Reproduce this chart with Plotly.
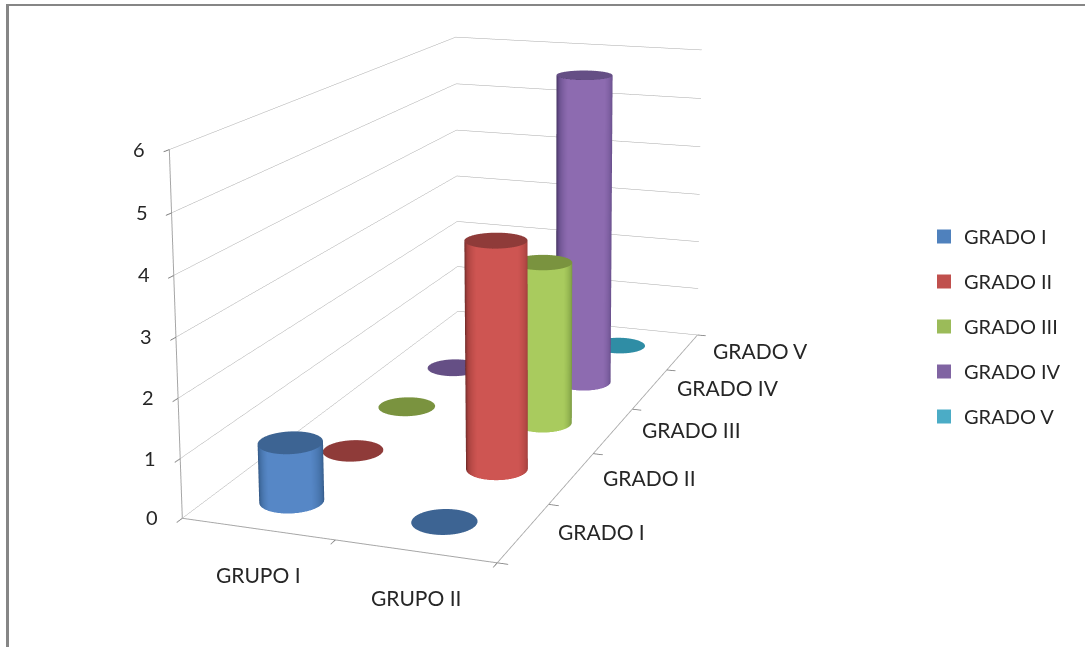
import numpy as np
import plotly.graph_objects as go

# Chart data
groups = ["GRUPO I", "GRUPO II"]
grades = ["GRADO I", "GRADO II", "GRADO III", "GRADO IV", "GRADO V"]
grado_i = [1, 0]
grado_ii = [0, 4]
grado_iii = [0, 3]
grado_iv = [0, 6]
grado_v = [0, 0]
series_values = [grado_i, grado_ii, grado_iii, grado_iv, grado_v]
z_ticks = [0, 1, 2, 3, 4, 5, 6]

# Series colours: lit centre, shaded side, darkest edge, top cap, legend swatch
body_light = ["#5687C6", "#CE5552", "#A9CB5E", "#8D6BB0", "#4FB3CE"]
body_mid = ["#3F6A9E", "#A8423F", "#7F9F44", "#6C5290", "#2F8DA5"]
body_dark = ["#223C5E", "#4F1C1A", "#5F7A2B", "#33244E", "#21687C"]
cap_colour = ["#3D6493", "#8F3B39", "#7A933F", "#654F85", "#2F8DA5"]
legend_colour = ["#4F81BD", "#C0504D", "#9BBB59", "#8064A2", "#4BACC6"]

# Canvas: the scene has a fixed 45 degree field of view, so a taller canvas gives
# the flatter perspective of a spreadsheet 3-D chart. The page is moved up by
# SHIFT pixels so that the visible window shows the chart area.
W, H, SHIFT = 1085, 1633, 716

EYE = (0.9006, -2.3618, 0.6774)
CENTER = (0.4766, -1.1155, 0.4335)
ASPECT = (0.3905, 0.8868, 0.4388)
RADIUS = 0.0384  # cylinder radius in scene units

X_RANGE, Y_RANGE, Z_RANGE = 2, 5, 6
view_az = np.arctan2(EYE[1] - CENTER[1], EYE[0] - CENTER[0])


def cylinder(i, cx, cy, h):
    """Side and top cap of one series' cylinder; a zero value leaves only the cap."""
    t = np.linspace(0, 2 * np.pi, 145)
    kx, ky = RADIUS * X_RANGE / ASPECT[0], RADIUS * Y_RANGE / ASPECT[1]
    X = np.stack([cx + kx * np.cos(t)] * 2)
    Y = np.stack([cy + ky * np.sin(t)] * 2)
    Z = np.stack([0 * t, 0 * t + h])
    delta = t - view_az
    shade = np.clip(np.cos(delta), 0, 1)
    shade = np.where(np.sin(delta) > 0, 0.3 + 0.7 * shade, shade)
    shade = np.stack([shade, shade])
    scale = [[0, body_dark[i]], [0.45, body_mid[i]], [0.8, body_light[i]], [1, body_light[i]]]
    style = dict(showscale=False, hoverinfo="skip", cmin=0, cmax=1,
                 lighting=dict(ambient=1, diffuse=0, specular=0, roughness=1, fresnel=0))
    parts = []
    if h > 0:
        parts.append(go.Surface(x=X, y=Y, z=Z, surfacecolor=shade, colorscale=scale, **style))
    rings = np.array([0, 1.0])
    XC = cx + np.outer(rings, kx * np.cos(t))
    YC = cy + np.outer(rings, ky * np.sin(t))
    ZC = np.full_like(XC, h)
    parts.append(go.Surface(x=XC, y=YC, z=ZC, surfacecolor=np.zeros_like(XC),
                            colorscale=[[0, cap_colour[i]], [1, cap_colour[i]]], **style))
    return parts


fig = go.Figure()
for i, vals in enumerate(series_values):
    for j, v in enumerate(vals):
        for part in cylinder(i, j + 0.5, i + 0.5, v):
            fig.add_trace(part)

# Legend entries
for i, name in enumerate(grades):
    fig.add_trace(go.Scatter3d(x=[None], y=[None], z=[None], mode="markers", name=name,
                               legendgroup=name,
                               marker=dict(symbol="square", size=14, color=legend_colour[i])))

font = dict(family="Lato", size=20, color="#262626")
label_font = dict(family="Lato", size=21, color="#262626")

# Axis labels are anchored to their data positions on the floor edges
labels = []
for z in z_ticks:
    labels.append(dict(x=0, y=0, z=z, text=str(z), showarrow=False, xshift=-30, yshift=1, font=font))
for j, g in enumerate(groups):
    labels.append(dict(x=j + 0.5, y=0, z=0, text=g, showarrow=False, xshift=1, yshift=-46, font=label_font))
for i, g in enumerate(grades):
    labels.append(dict(x=X_RANGE, y=i + 0.5, z=0, text=g, showarrow=False, xshift=78, yshift=1, font=label_font))

axis = dict(showbackground=False, showspikes=False, showticklabels=False, zeroline=False,
            title=dict(text=""), showline=True, linecolor="#a6a6a6", linewidth=2,
            ticks="outside", ticklen=8, tickcolor="#808080", tickwidth=2)


def page_y(v):
    """Paper fraction for a pixel row of the visible window."""
    return 1 - (v + SHIFT) / H


fig.update_layout(
    width=W, height=H, margin=dict(l=0, r=0, t=0, b=0), paper_bgcolor="white",
    showlegend=True,
    legend=dict(x=924 / W, y=page_y(217), xanchor="left", yanchor="top",
                font=font, tracegroupgap=16, bgcolor="rgba(0,0,0,0)"),
    scene=dict(
        xaxis=dict(axis, range=[0, X_RANGE], tickvals=list(range(X_RANGE + 1)), showgrid=False),
        yaxis=dict(axis, range=[0, Y_RANGE], tickvals=list(range(Y_RANGE + 1)), showgrid=False),
        zaxis=dict(axis, range=[0, Z_RANGE], tickvals=z_ticks, showgrid=True,
                   gridcolor="#a8a8a8", gridwidth=1),
        aspectmode="manual",
        aspectratio=dict(x=ASPECT[0], y=ASPECT[1], z=ASPECT[2]),
        camera=dict(eye=dict(x=EYE[0], y=EYE[1], z=EYE[2]),
                    center=dict(x=CENTER[0], y=CENTER[1], z=CENTER[2]),
                    up=dict(x=0, y=0, z=1)),
        annotations=labels,
    ),
    # Chart-area border, visible along the left and top sides
    shapes=[
        dict(type="line", xref="paper", yref="paper", x0=7.5 / W, x1=7.5 / W,
             y0=page_y(647), y1=page_y(4), line=dict(color="#868686", width=3)),
        dict(type="line", xref="paper", yref="paper", x0=6 / W, x1=1,
             y0=page_y(5), y1=page_y(5), line=dict(color="#868686", width=2)),
    ],
)
fig.write_html("out.html", post_script=(
    "document.documentElement.style.overflow='hidden';document.body.style.overflow='hidden';"
    f"document.querySelector('.plotly-graph-div').style.transform='translateY(-{SHIFT}px)';"
))
